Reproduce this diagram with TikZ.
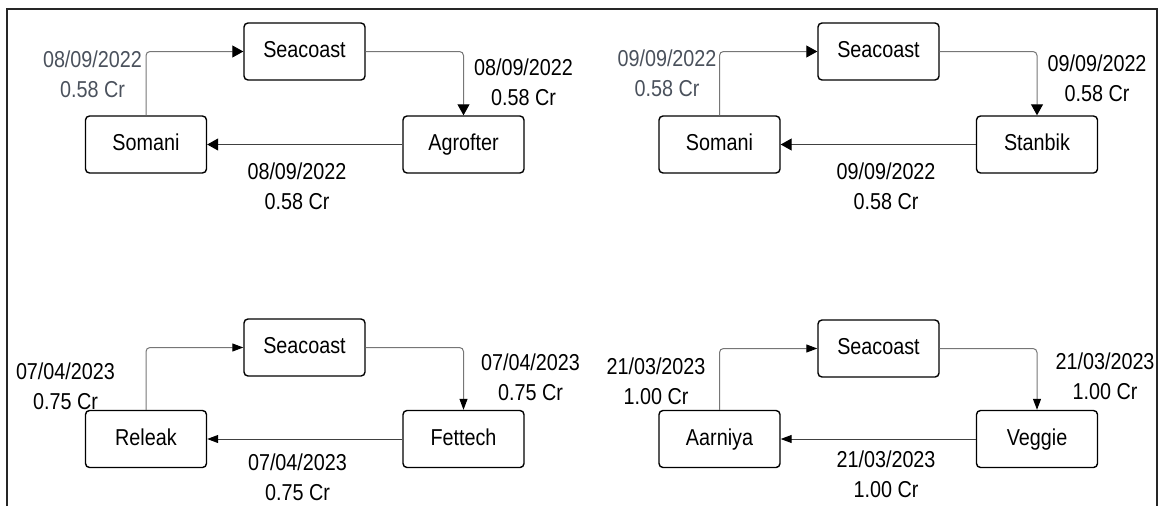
\documentclass[tikz,border=0pt]{standalone}
\usepackage{fontspec}
\setmainfont{Liberation Sans}[FakeStretch=0.86]
\usetikzlibrary{arrows.meta}
\definecolor{slate}{RGB}{74,81,92}
\definecolor{wire}{RGB}{118,118,118}
\tikzset{
  firm/.style={draw, line width=1.4pt, rounded corners=4pt, minimum width=121pt,
    minimum height=57pt, inner sep=0pt, text height=17pt, text depth=5pt,
    font=\fontsize{23}{28}\selectfont},
  deal/.style={align=center, inner sep=0pt, font=\fontsize{23}{30}\selectfont},
  flow/.style={-{Triangle[length=11pt,width=12pt,color=black]}, line width=1pt,
    draw=wire, rounded corners=4pt},
  back/.style={-{Triangle[length=11pt,width=12pt,color=black]}, line width=1pt,
    draw=black!75},
  thin tip/.style={-{Triangle[length=11pt,width=8pt,color=black]}},
}
\begin{document}
\begin{tikzpicture}[x=1pt, y=-1pt]
    \useasboundingbox (0,0) rectangle (1161,506);

    % Outer frame (open at the bottom)
    \draw[line width=2pt, black!85] (7,506) -- (7,9) -- (1157,9) -- (1157,506);

    % Round trip 1 - 08/09/2022
    \node[firm] (seaA) at (304.5,51.5) {Seacoast};
    \node[firm] (somA) at (146,144.5) {Somani};
    \node[firm] (agrA) at (463.5,144.5) {Agrofter};
    \draw[flow] (somA.north) |- (seaA.west);
    \draw[flow] (seaA.east) -| (agrA.north);
    \draw[back] (agrA.west) -- (somA.east);
    \node[deal, slate] (dealA1) at (92.5,74) {08/09/2022\\0.58 Cr};
    \node[deal] (dealA2) at (523.5,82.5) {08/09/2022\\0.58 Cr};
    \node[deal] (dealA3) at (297,186) {08/09/2022\\0.58 Cr};

    % Round trip 2 - 09/09/2022
    \node[firm] (seaB) at (878.5,51.5) {Seacoast};
    \node[firm] (somB) at (719.5,144.5) {Somani};
    \node[firm] (stnB) at (1037,144.5) {Stanbik};
    \draw[flow] (somB.north) |- (seaB.west);
    \draw[flow] (seaB.east) -| (stnB.north);
    \draw[back] (stnB.west) -- (somB.east);
    \node[deal, slate] (dealB1) at (667,73.5) {09/09/2022\\0.58 Cr};
    \node[deal] (dealB2) at (1097,78) {09/09/2022\\0.58 Cr};
    \node[deal] (dealB3) at (886,186) {09/09/2022\\0.58 Cr};

    % Round trip 3 - 07/04/2023 (smaller tips)
    \node[firm] (seaC) at (304.5,347.5) {Seacoast};
    \node[firm] (relC) at (146,439) {Releak};
    \node[firm] (fetC) at (463.5,439) {Fettech};
    \draw[flow, thin tip] (relC.north) |- (seaC.west);
    \draw[flow, thin tip] (seaC.east) -| (fetC.north);
    \draw[back, thin tip] (fetC.west) -- (relC.east);
    \node[deal] (dealC1) at (65.5,386) {07/04/2023\\0.75 Cr};
    \node[deal] (dealC2) at (530.5,377) {07/04/2023\\0.75 Cr};
    \node[deal] (dealC3) at (297.5,477.5) {07/04/2023\\0.75 Cr};

    % Round trip 4 - 21/03/2023 (smaller tips)
    \node[firm] (seaD) at (878.5,348.5) {Seacoast};
    \node[firm] (aarD) at (719.5,439) {Aarniya};
    \node[firm] (vegD) at (1037,439) {Veggie};
    \draw[flow, thin tip] (aarD.north) |- (seaD.west);
    \draw[flow, thin tip] (seaD.east) -| (vegD.north);
    \draw[back, thin tip] (vegD.west) -- (aarD.east);
    \node[deal] (dealD1) at (656,381) {21/03/2023\\1.00 Cr};
    \node[deal] (dealD2) at (1105,376.5) {21/03/2023\\1.00 Cr};
    \node[deal] (dealD3) at (886,474) {21/03/2023\\1.00 Cr};
\end{tikzpicture}
\end{document}
